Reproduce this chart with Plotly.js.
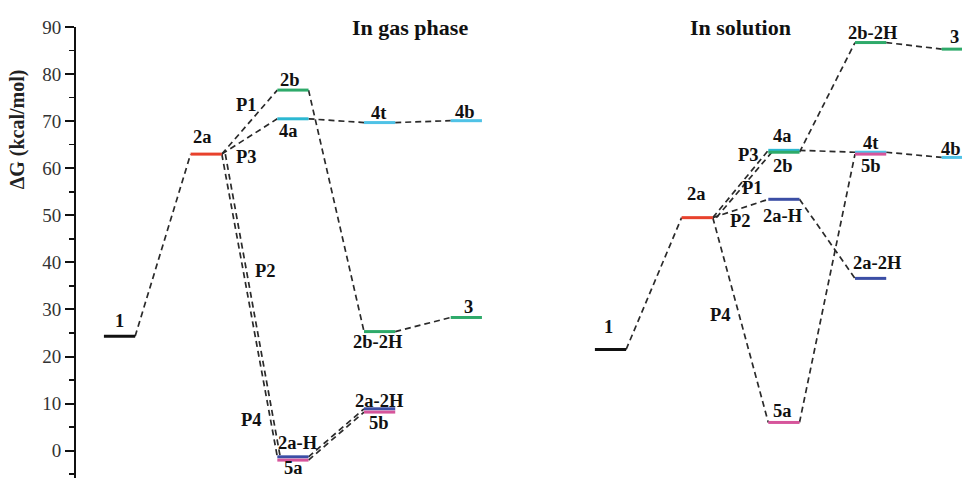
<!DOCTYPE html>
<html><head><meta charset="utf-8">
<script src="https://cdn.plot.ly/plotly-3.0.1.min.js"></script>
<style>html,body{margin:0;padding:0;background:#fff}#chart{width:962px;height:478px}</style>
</head><body><div id="chart"></div>
<script>
// ---- data (ΔG in kcal/mol; step = position along reaction coordinate) ----
const gasSpecies = ['1','2a','2b','4a','4t','4b','2b-2H','3','2a-H','5a','2a-2H','5b'];
const gasStep    = [0, 1, 2, 2, 3, 4, 3, 4, 2, 2, 3, 3];
const gasG       = [24.3, 63.0, 76.6, 70.5, 69.7, 70.1, 25.3, 28.3, -1.3, -2.0, 8.9, 8.2];
const gasPaths   = [['1','2a'],['2a','2b'],['2a','4a'],['2a','2a-H'],['2a','5a'],['2b','2b-2H'],
                    ['4a','4t'],['4t','4b'],['2b-2H','3'],['2a-H','2a-2H'],['5a','5b']];

const solSpecies = ['1','2a','4a','2b','2a-H','5a','2b-2H','4t','5b','2a-2H','3','4b'];
const solStep    = [0, 1, 2, 2, 2, 2, 3, 3, 3, 3, 4, 4];
const solG       = [21.5, 49.5, 63.8, 63.4, 53.4, 6.0, 86.7, 63.4, 63.0, 36.6, 85.3, 62.3];
const solPaths   = [['1','2a'],['2a','4a'],['2a','2b'],['2a','2a-H'],['2a','5a'],['2a-H','2a-2H'],
                    ['4a','4t'],['4t','4b'],['2b','2b-2H'],['5a','5b'],['2b-2H','3']];

const pathNames  = ['P1','P2','P3','P4'];
const panelTitles = ['In gas phase','In solution'];
const yTitle = 'ΔG (kcal/mol)';

// ---- layout / style config ----
const solOffset = 5.663;     // x shift of the solution panel
const hw = 0.18;             // half width of a level bar
const pxPerStep = 86.7;
const colors = {'1':'#111111','2a':'#e8412c','2b':'#2eaa6a','4a':'#2cb8d2','4t':'#4fc2e6','4b':'#4fc2e6',
  '2b-2H':'#2eaa6a','3':'#2eaa6a','2a-H':'#3b4ea5','2a-2H':'#3b4ea5','5a':'#d6559b','5b':'#d6559b'};
// second line of a drawn parallel pair is nudged sideways (px)
const pathNudge = {gas:{'2a>5a':3.5}, sol:{'2a>2b':3.5}};
// label shifts (px): [dx, dy]  (dy>0 = up)
const gasLab = {'1':[-0.5,15],'2a':[-4,17],'2b':[-3,10],'4a':[-4,-12],'4t':[-1,10],'4b':[-1,9],
  '2b-2H':[-2,-10],'3':[2,10],'2a-H':[5,14],'5a':[1,-8],'2a-2H':[0,8],'5b':[-1,-11]};
const solLab = {'1':[-2.5,22],'2a':[-1,24],'4a':[-1,14],'2b':[-1,-14],'2a-H':[-1,-17],'5a':[-1,11],
  '2b-2H':[2,10],'4t':[0,9],'5b':[0,-12],'2a-2H':[7,15.6],'3':[-3,12.6],'4b':[-6,8]};
// path label anchor positions [x, y] in axis units
const gasPathPos = {P1:[1.459,73.5],P2:[1.678,38.1],P3:[1.459,62.4],P4:[1.525,6.5]};
const solPathPos = {P1:[7.303,55.8],P2:[7.157,48.7],P3:[7.249,62.9],P4:[6.926,28.8]};
const titlePos = [[3.351,90.0],[7.157,89.9]];

const serif = 'Liberation Serif, Times New Roman, serif';
const labSize = 18.5;
const traces = [];
const annotations = [];

function panel(species, step, G, paths, off, labShift, nudge, pathPos) {
  const idx = {};
  species.forEach((s,i)=>idx[s]=i);
  // connectors
  const cx = [], cy = [];
  paths.forEach(([a,b])=>{
    const ia = idx[a], ib = idx[b];
    const n = (nudge[a+'>'+b]||0)/pxPerStep;
    cx.push(step[ia]+off+hw+n, step[ib]+off-hw+n, null);
    cy.push(G[ia], G[ib], null);
  });
  traces.push({x:cx, y:cy, mode:'lines', hoverinfo:'skip', showlegend:false,
    line:{color:'#2a2a2a', width:1.7, dash:'6px,4px'}});
  // levels
  species.forEach((s,i)=>{
    traces.push({x:[step[i]+off-hw, step[i]+off+hw], y:[G[i],G[i]], mode:'lines', showlegend:false,
      name:s, line:{color:colors[s], width:3}});
    const sh = labShift[s]||[0,12];
    annotations.push({x:step[i]+off, y:G[i], xref:'x', yref:'y', text:'<b>'+s+'</b>', showarrow:false,
      xshift:sh[0], yshift:sh[1], font:{family:serif, size:labSize, color:'#111'}});
  });
  pathNames.forEach(p=>{
    const pp = pathPos[p];
    annotations.push({x:pp[0], y:pp[1], xref:'x', yref:'y', text:'<b>'+p+'</b>', showarrow:false,
      font:{family:serif, size:labSize, color:'#111'}});
  });
}
panel(gasSpecies, gasStep, gasG, gasPaths, 0, gasLab, pathNudge.gas, gasPathPos);
panel(solSpecies, solStep, solG, solPaths, solOffset, solLab, pathNudge.sol, solPathPos);

panelTitles.forEach((t,i)=>{
  annotations.push({x:titlePos[i][0], y:titlePos[i][1], xref:'x', yref:'y', text:'<b>'+t+'</b>',
    showarrow:false, font:{family:serif, size:22, color:'#111'}});
});
annotations.push({xref:'paper', yref:'paper', x:-0.066, y:0.772, text:'<b>'+yTitle+'</b>', textangle:-90,
  showarrow:false, xanchor:'center', yanchor:'middle', font:{family:serif, size:20, color:'#222'}});

const layout = {
  width:962, height:478,
  margin:{l:76, r:0, t:27, b:0},
  paper_bgcolor:'#fff', plot_bgcolor:'#fff',
  showlegend:false,
  xaxis:{visible:false, range:[-0.502, 9.717], fixedrange:true},
  yaxis:{range:[-5.8, 90], showgrid:false, zeroline:false, showline:true, linewidth:2, linecolor:'#111',
    ticks:'outside', ticklen:9, tickwidth:2, tickcolor:'#111', dtick:10, tick0:0,
    tickfont:{family:serif, size:19, color:'#333'},
    minor:{dtick:5, ticks:'outside', ticklen:5, tickwidth:1.5, tickcolor:'#111', showgrid:false}},
  annotations: annotations
};
Plotly.newPlot('chart', traces, layout, {displayModeBar:false, staticPlot:true});
</script></body></html>
